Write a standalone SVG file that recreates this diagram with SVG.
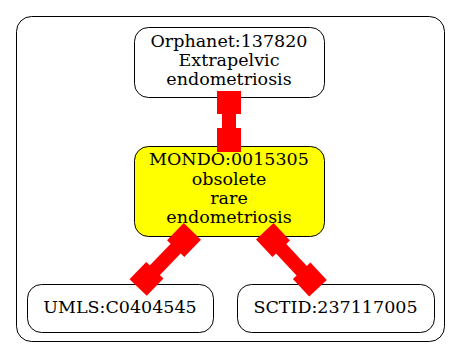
<svg xmlns="http://www.w3.org/2000/svg" width="461" height="359" viewBox="0 0 461 359">
  <style>
    .node rect { stroke: #000; stroke-width: 1; }
    .plain { fill: #fff; }
    .focus { fill: #ffff00; }
    text { font-family: "DejaVu Serif", serif; font-size: 17.5px; fill: #000; text-anchor: middle; }
    .edge { fill: #ff0000; }
  </style>
  <defs>
    <!-- box-ended thick connector, drawn along +y from 0 to 37 -->
    <g id="boxlink37">
      <rect x="-12" y="-11.5" width="24" height="23"/>
      <rect x="-7" y="0" width="14" height="37"/>
      <rect x="-12" y="25.5" width="24" height="24"/>
    </g>
    <g id="boxlink54">
      <rect x="-12" y="-12" width="24" height="24"/>
      <rect x="-7" y="0" width="14" height="54"/>
      <rect x="-12" y="42" width="24" height="24"/>
    </g>
  </defs>

  <rect width="461" height="359" fill="#fff"/>

  <!-- cluster -->
  <rect x="16.5" y="16.5" width="428" height="325" rx="15" ry="15" fill="#fff" stroke="#000" stroke-width="1"/>

  <g id="n_orphanet" class="node">
    <rect class="plain" x="134.5" y="27.5" width="190" height="70" rx="14" ry="14"/>
    <text x="229" y="46.5">Orphanet:137820</text>
    <text x="229" y="65.8">Extrapelvic</text>
    <text x="229" y="85">endometriosis</text>
  </g>

  <g id="n_mondo" class="node">
    <rect class="focus" x="134.5" y="146.5" width="190" height="90" rx="14" ry="14"/>
    <text x="229" y="164.8">MONDO:0015305</text>
    <text x="229" y="184.5">obsolete</text>
    <text x="229" y="203.8">rare</text>
    <text x="229" y="223">endometriosis</text>
  </g>

  <g id="n_umls" class="node">
    <rect class="plain" x="27.5" y="284.5" width="186" height="48" rx="14" ry="14"/>
    <text x="120" y="313">UMLS:C0404545</text>
  </g>

  <g id="n_sctid" class="node">
    <rect class="plain" x="237.5" y="284.5" width="197" height="48" rx="14" ry="14"/>
    <text x="335.5" y="313">SCTID:237117005</text>
  </g>

  <g id="connectors" class="edge">
    <use href="#boxlink37" transform="translate(229,102.5)"/>
    <use href="#boxlink54" transform="translate(184,240) rotate(44)"/>
    <use href="#boxlink54" transform="translate(273,240) rotate(-43)"/>
  </g>
</svg>
